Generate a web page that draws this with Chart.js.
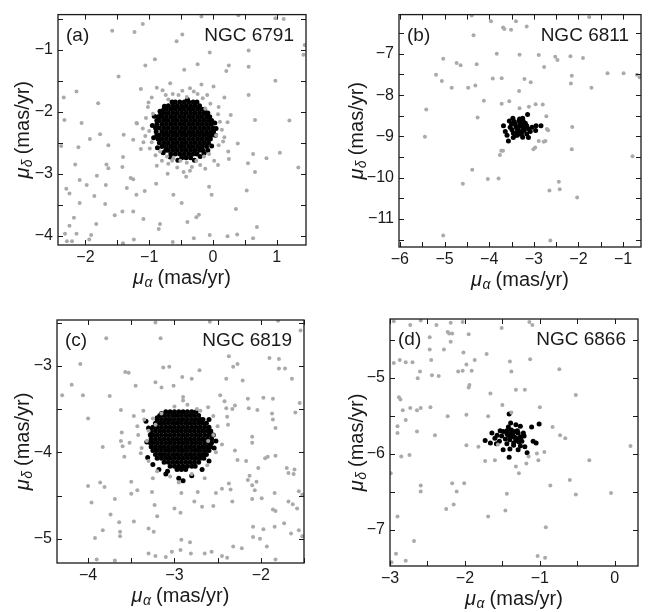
<!DOCTYPE html>
<html>
<head>
<meta charset="utf-8">
<script src="https://cdn.jsdelivr.net/npm/chart.js@4.4.1/dist/chart.umd.min.js"></script>
<style>
  body { margin: 0; background: #fff; width: 649px; height: 612px; position: relative; overflow: hidden; }
  canvas { position: absolute; display: block; }
</style>
</head>
<body>
<canvas id="pa" width="324" height="300" style="left:0px;top:0px"></canvas>
<canvas id="pb" width="324" height="300" style="left:325px;top:0px"></canvas>
<canvas id="pc" width="324" height="312" style="left:0px;top:300px"></canvas>
<canvas id="pd" width="324" height="312" style="left:325px;top:300px"></canvas>
<script>
// ---- data (proper motions, mas/yr) ----

// (a) NGC 6791
var aField = [
  [-0.18,-0.46],[0.40,-0.44],[-1.10,-0.58],[-1.58,-0.69],[-1.23,-0.71],[-0.48,-0.75],[-0.57,-0.86],[0.98,-0.49],[1.11,-0.50],[1.44,-0.92],[1.42,-1.08],
  [-0.05,-1.04],[0.56,-1.01],[-0.91,-1.15],[-1.06,-1.25],[-0.24,-1.23],[0.25,-1.25],[0.21,-1.34],[-0.45,-1.32],[0.56,-1.27],[-1.48,-1.43],[0.98,-1.50],
  [-2.14,-1.67],[-2.34,-1.77],[-1.80,-1.86],[-0.67,-1.54],[-1.13,-1.63],[0.01,-1.59],[-0.18,-1.56],[0.56,-1.73],[0.18,-1.77],
  [-2.33,-2.13],[-2.06,-2.18],[-1.19,-2.19],[0.66,-2.13],[1.20,-2.14],[-1.77,-2.36],[-1.93,-2.44],[-2.38,-2.55],[-2.11,-2.57],[-1.64,-2.54],[-1.40,-2.37],[-1.25,-2.45],
  [0.39,-2.51],[0.63,-2.68],[1.05,-2.66],[0.25,-2.76],[0.84,-2.75],[-1.41,-2.73],[-2.16,-2.85],[-1.67,-2.85],[-1.64,-2.91],[-1.42,-2.89],[-0.88,-2.87],[1.34,-2.90],[0.55,-2.83],[0.08,-2.86],[0.66,-2.97],
  [-0.71,-3.00],[-0.42,-3.05],[-1.82,-3.03],[-1.29,-3.07],[-1.25,-3.09],[-2.09,-3.10],[-1.98,-3.18],[-1.68,-3.18],[-1.35,-3.23],[-0.89,-3.16],[-1.07,-3.28],[-2.30,-3.24],[-0.06,-3.21],[-0.62,-3.34],[-0.02,-3.34],[0.53,-3.27],[-2.25,-3.32],
  [-2.09,-3.47],[-1.69,-3.49],[-1.86,-3.36],[-1.20,-3.34],[-0.49,-3.47],[-1.54,-3.67],[-1.42,-3.61],[-1.25,-3.61],[-1.09,-3.73],[-2.18,-3.71],[-1.83,-3.81],[-0.83,-3.81],[-0.40,-3.78],[-0.26,-3.70],[-0.22,-3.66],[0.36,-3.57],
  [-2.25,-3.84],[-0.85,-3.89],[0.69,-3.86],[-2.32,-3.97],[-2.14,-3.97],[-1.91,-3.99],[-0.05,-3.99],[0.23,-4.01],[0.38,-3.98],[-2.29,-4.09],[-2.21,-4.09],[-1.94,-4.06],[-1.24,-4.06],[-1.41,-4.12],[-0.63,-4.10],[-0.30,-4.04],[0.63,-4.04],
  [-0.88,-1.61],[-0.79,-1.65],[-0.74,-1.73],[-0.63,-1.71],[-0.54,-1.73],[-0.41,-1.76],[-0.30,-1.67],[-0.24,-1.71],[-0.16,-1.78],[-0.09,-1.73],[-0.36,-1.62],[-0.96,-1.77],[-1.01,-1.85],[-0.04,-1.87],[0.09,-1.92],
  [-1.20,-2.18],[-1.10,-2.27],[-1.00,-2.31],[-1.06,-2.39],[-0.96,-2.49],[-1.02,-1.92],[-0.94,-2.03],[-1.09,-2.49],[-0.99,-2.59],
  [0.11,-2.16],[0.23,-2.17],[0.14,-2.29],[0.05,-2.38],[0.18,-2.41],[0.09,-2.54],[0.24,-2.64],[0.08,-2.04],
  [-0.83,-2.64],[-0.72,-2.72],[-0.62,-2.75],[-0.51,-2.79],[-0.41,-2.82],[-0.26,-2.79],[-0.14,-2.72],[-0.06,-2.68],[-0.70,-2.84],[-0.56,-2.90],[-0.33,-2.89],[-0.20,-2.86],[-0.46,-2.97],[-0.64,-2.79],[0.02,-2.79],[-0.80,-2.79],
  [-0.48,-1.66],[-0.70,-1.80],[-0.12,-1.95],[-1.05,-2.10],[0.16,-2.48],[-0.90,-2.70],[-0.36,-2.95],[-0.12,-2.92],[-1.13,-2.60],[0.28,-2.05]
];
var aMemberRowY = [-1.84,-1.90,-1.96,-2.02,-2.08,-2.14,-2.20,-2.26,-2.32,-2.38,-2.44,-2.50,-2.56,-2.62,-2.68,-2.74];
var aMemberRowX = [
  [-0.59,-0.52,-0.45,-0.38,-0.31],
  [-0.70,-0.63,-0.56,-0.49,-0.42,-0.35,-0.28,-0.21],
  [-0.77,-0.73,-0.66,-0.59,-0.52,-0.45,-0.38,-0.31,-0.24,-0.17,-0.13],
  [-0.82,-0.77,-0.70,-0.63,-0.56,-0.49,-0.42,-0.35,-0.28,-0.21,-0.14,-0.08],
  [-0.86,-0.80,-0.73,-0.66,-0.59,-0.52,-0.45,-0.38,-0.31,-0.24,-0.17,-0.10,-0.05],
  [-0.88,-0.84,-0.77,-0.70,-0.63,-0.56,-0.49,-0.42,-0.35,-0.28,-0.21,-0.14,-0.07,-0.02],
  [-0.88,-0.80,-0.73,-0.66,-0.59,-0.52,-0.45,-0.38,-0.31,-0.24,-0.17,-0.10,-0.03],
  [-0.90,-0.84,-0.77,-0.70,-0.63,-0.56,-0.49,-0.42,-0.35,-0.28,-0.21,-0.14,-0.07,0.00],
  [-0.89,-0.80,-0.73,-0.66,-0.59,-0.52,-0.45,-0.38,-0.31,-0.24,-0.17,-0.10,-0.03,0.01],
  [-0.88,-0.84,-0.77,-0.70,-0.63,-0.56,-0.49,-0.42,-0.35,-0.28,-0.21,-0.14,-0.07,-0.02],
  [-0.86,-0.80,-0.73,-0.66,-0.59,-0.52,-0.45,-0.38,-0.31,-0.24,-0.17,-0.10,-0.04],
  [-0.84,-0.77,-0.70,-0.63,-0.56,-0.49,-0.42,-0.35,-0.28,-0.21,-0.14,-0.07],
  [-0.80,-0.73,-0.66,-0.59,-0.52,-0.45,-0.38,-0.31,-0.24,-0.17,-0.10],
  [-0.74,-0.70,-0.63,-0.56,-0.49,-0.42,-0.35,-0.28,-0.21,-0.16],
  [-0.66,-0.59,-0.52,-0.45,-0.38,-0.31,-0.25],
  [-0.49,-0.42,-0.35]
];
var aMemberExtra = [
  [-0.95,-2.22],[-0.93,-2.42],[-0.87,-2.58],[0.04,-2.38],[-0.02,-2.55],[-0.14,-2.67],[-0.67,-2.73],[-0.29,-2.78],[-0.83,-1.99],[-0.25,-1.84],
  [-0.64,-1.84],[0.03,-2.18],[-0.55,-2.78],[-0.20,-2.72],[-0.40,-1.80],[-0.76,-1.91],[-0.92,-2.07],[0.05,-2.27],[-0.78,-2.66],[-0.08,-2.62]
];

// (b) NGC 6811
var bField = [
  [-4.39,-6.07],[-3.96,-6.21],[-3.69,-6.36],[-3.66,-6.40],[-3.51,-6.42],[-3.40,-6.21],[-3.16,-6.34],[-4.35,-6.55],[-1.76,-6.11],
  [-5.03,-7.12],[-4.73,-7.22],[-4.64,-7.28],[-4.28,-7.25],[-3.83,-7.00],[-3.32,-7.02],[-2.89,-7.03],[-2.77,-7.32],[-2.52,-7.07],[-2.47,-7.15],[-2.18,-7.06],[-1.90,-7.10],
  [-2.15,-7.53],[-2.17,-7.72],[-5.19,-7.51],[-5.06,-7.66],[-4.84,-7.82],[-4.47,-7.82],[-4.31,-7.77],[-3.92,-7.60],[-3.72,-7.59],[-3.21,-7.61],[-3.07,-7.69],
  [-1.35,-7.47],[-0.99,-7.47],[-0.69,-7.51],[-0.63,-7.57],[-1.71,-7.82],[-4.12,-8.14],[-3.72,-8.21],[-3.55,-8.15],[-3.33,-7.90],[-3.32,-8.32],[-3.11,-8.28],[-2.96,-8.22],[-2.80,-8.23],
  [-2.72,-8.51],[-5.41,-8.35],[-4.26,-8.54],[-2.14,-8.77],[-2.68,-8.85],[-5.44,-9.01],[-3.73,-9.35],[-3.76,-9.45],[-2.89,-9.11],[-2.74,-9.11],[-3.01,-9.31],[-2.15,-9.31],
  [-0.79,-9.48],[-4.38,-9.81],[-4.03,-10.03],[-3.79,-10.02],[-4.59,-10.15],[-2.44,-10.10],[-2.42,-10.28],[-2.65,-10.31],[-2.03,-10.48],[-5.03,-11.40],[-2.63,-11.52],
  [-2.71,-8.82],[-2.78,-9.13],[-2.97,-9.27],[-3.69,-9.35]
];
var bMembers = [
  [-3.68,-8.74],[-3.55,-8.63],[-3.47,-8.56],[-3.32,-8.58],[-3.25,-8.56],[-3.14,-8.47],[-3.04,-8.78],[-2.95,-8.74],[-2.84,-8.74],[-2.96,-8.86],
  [-3.60,-8.97],[-3.57,-9.11],[-3.46,-9.03],[-3.25,-9.02],[-3.16,-8.94],[-3.38,-8.80],[-3.49,-8.84],[-3.31,-8.68],[-3.19,-8.68],[-3.42,-8.70],
  [-3.08,-8.88],[-3.34,-8.92],[-3.23,-8.81],[-3.46,-8.92],[-3.16,-8.74],[-3.27,-8.89],[-3.53,-8.78],[-3.64,-8.88],[-3.37,-8.97],[-3.12,-9.03],
  [-3.30,-8.75],[-3.26,-8.72],[-3.35,-8.83],[-3.22,-8.86],[-3.40,-8.76],[-3.28,-8.95],[-3.20,-8.78],[-3.44,-8.64],[-3.38,-8.90],[-3.33,-8.62],
  [-3.24,-8.63],[-3.12,-8.82],[-3.50,-8.70],[-3.42,-8.98]
];

// (c) NGC 6819
var cField = [
  [-3.22,-2.50],[-2.59,-2.49],[-1.80,-2.48],[-1.54,-2.59],[-3.79,-2.68],[-3.16,-2.68],[-4.09,-2.98],[-4.30,-3.34],[-4.19,-3.22],[-4.06,-3.34],
  [-3.57,-3.07],[-3.53,-3.08],[-3.13,-3.02],[-3.06,-3.01],[-3.45,-3.23],[-3.22,-3.19],[-3.15,-3.25],[-2.90,-3.36],[-2.90,-3.40],[-2.71,-3.05],
  [-2.91,-3.13],[-2.80,-3.15],[-3.01,-3.23],[-2.40,-3.15],[-2.32,-3.01],[-2.27,-2.98],[-2.21,-3.17],[-2.37,-2.89],[-1.90,-2.91],[-1.79,-3.03],
  [-1.72,-3.03],[-1.79,-2.92],[-1.64,-3.15],[-2.47,-3.34],[-2.42,-3.41],[-2.40,-3.49],[-2.33,-3.50],[-2.30,-3.46],[-2.39,-3.59],[-2.15,-3.38],
  [-1.97,-3.37],[-1.86,-3.38],[-2.14,-3.49],[-2.04,-3.51],[-1.87,-3.55],[-1.86,-3.62],[-1.83,-3.72],[-1.55,-3.43],[-1.60,-3.54],[-4.00,-3.61],
  [-3.75,-3.35],[-3.62,-3.51],[-3.47,-3.58],[-3.36,-3.52],[-2.74,-3.50],[-2.61,-3.48],[-3.25,-3.61],[-3.22,-3.68],[-3.43,-3.70],[-3.61,-3.77],
  [-3.62,-3.87],[-3.60,-3.93],[-3.58,-4.05],[-3.83,-3.94],[-3.52,-3.89],[-3.39,-4.01],[-3.32,-3.87],[-2.55,-3.80],[-2.61,-3.87],[-2.45,-3.91],
  [-2.38,-3.68],[-2.30,-3.98],[-2.10,-3.89],[-2.10,-3.82],[-2.27,-4.09],[-2.17,-4.10],[-1.95,-4.07],[-1.92,-4.05],[-1.83,-4.04],[-1.61,-4.20],
  [-1.62,-4.25],[-2.03,-4.18],[-2.13,-4.27],[-2.15,-4.32],[-2.10,-4.38],[-2.05,-4.34],[-2.37,-4.36],[-2.35,-4.43],[-2.45,-4.42],[-2.52,-4.47],
  [-2.07,-4.44],[-2.33,-4.57],[-2.10,-4.54],[-1.99,-4.53],[-1.84,-4.47],[-1.70,-4.18],[-1.68,-4.24],[-1.56,-4.45],[-1.52,-4.49],[-1.58,-4.65],
  [-1.73,-4.82],[-1.84,-4.86],[-1.97,-4.89],[-2.09,-4.86],[-2.09,-4.98],[-2.01,-5.00],[-1.93,-5.09],[-1.65,-4.94],[-1.56,-4.90],[-1.52,-4.97],
  [-1.83,-4.68],[-1.86,-4.66],[-3.86,-4.35],[-3.81,-4.40],[-4.00,-4.39],[-3.96,-4.58],[-3.69,-4.54],[-3.50,-4.34],[-3.50,-4.48],[-3.43,-4.44],
  [-3.26,-4.46],[-3.23,-4.61],[-2.92,-4.47],[-2.73,-4.46],[-2.68,-4.63],[-2.55,-4.62],[-2.77,-4.57],[-3.00,-4.65],[-3.20,-4.74],[-3.30,-4.88],
  [-2.93,-4.70],[-3.74,-4.72],[-3.83,-4.90],[-3.64,-4.81],[-3.63,-4.92],[-3.63,-4.97],[-3.92,-4.99],[-3.90,-5.24],[-3.69,-5.25],[-3.30,-5.17],
  [-3.22,-5.20],[-3.10,-5.21],[-3.03,-5.15],[-2.93,-5.13],[-2.92,-5.01],[-2.82,-5.04],[-2.81,-5.17],[-2.65,-5.17],[-2.57,-5.15],[-2.45,-5.20],
  [-2.39,-5.22],[-2.32,-5.09],[-2.22,-5.11],[-1.83,-5.24],[-1.68,-4.57],[-1.63,-4.60],[-3.47,-4.80],[-3.24,-4.92],
  [-3.35,-3.62],[-3.30,-3.75],[-3.38,-3.95],[-3.30,-4.10],[-3.20,-4.22],[-3.05,-4.28],[-2.80,-4.25],[-2.62,-4.15],[-2.52,-4.00],[-2.50,-3.70],
  [-2.55,-3.58],[-2.70,-3.52],[-2.85,-3.45],[-3.00,-3.47],[-3.15,-3.55],[-2.65,-4.30],[-2.95,-4.35],[-3.25,-4.30],[-3.42,-3.80]
];
var cMemberRowY = [-3.53,-3.575,-3.62,-3.665,-3.71,-3.755,-3.80,-3.845,-3.89,-3.935,-3.98,-4.025,-4.07,-4.115,-4.16,-4.20];
var cMemberRowX = [
  [-3.10,-3.05,-3.00,-2.95,-2.90,-2.85,-2.80],
  [-3.17,-3.12,-3.07,-3.02,-2.97,-2.92,-2.87,-2.82,-2.77,-2.72],
  [-3.20,-3.15,-3.10,-3.05,-3.00,-2.95,-2.90,-2.85,-2.80,-2.75,-2.70,-2.67],
  [-3.22,-3.17,-3.12,-3.07,-3.02,-2.97,-2.92,-2.87,-2.82,-2.77,-2.72,-2.67,-2.63],
  [-3.25,-3.20,-3.15,-3.10,-3.05,-3.00,-2.95,-2.90,-2.85,-2.80,-2.75,-2.70,-2.65,-2.60],
  [-3.27,-3.22,-3.17,-3.12,-3.07,-3.02,-2.97,-2.92,-2.87,-2.82,-2.77,-2.72,-2.67,-2.62,-2.58],
  [-3.28,-3.25,-3.20,-3.15,-3.10,-3.05,-3.00,-2.95,-2.90,-2.85,-2.80,-2.75,-2.70,-2.65,-2.60,-2.57],
  [-3.27,-3.22,-3.17,-3.12,-3.07,-3.02,-2.97,-2.92,-2.87,-2.82,-2.77,-2.72,-2.67,-2.62,-2.57],
  [-3.28,-3.25,-3.20,-3.15,-3.10,-3.05,-3.00,-2.95,-2.90,-2.85,-2.80,-2.75,-2.70,-2.65,-2.60,-2.57],
  [-3.27,-3.22,-3.17,-3.12,-3.07,-3.02,-2.97,-2.92,-2.87,-2.82,-2.77,-2.72,-2.67,-2.62,-2.58],
  [-3.25,-3.20,-3.15,-3.10,-3.05,-3.00,-2.95,-2.90,-2.85,-2.80,-2.75,-2.70,-2.65,-2.60],
  [-3.22,-3.17,-3.12,-3.07,-3.02,-2.97,-2.92,-2.87,-2.82,-2.77,-2.72,-2.67,-2.63],
  [-3.20,-3.15,-3.10,-3.05,-3.00,-2.95,-2.90,-2.85,-2.80,-2.75,-2.70,-2.66],
  [-3.12,-3.07,-3.02,-2.97,-2.92,-2.87,-2.82,-2.77,-2.72],
  [-3.05,-3.00,-2.95,-2.90,-2.85,-2.80,-2.76],
  [-2.97,-2.92,-2.87]
];
var cMemberExtra = [
  [-3.30,-3.72],[-3.32,-3.88],[-3.31,-4.06],[-3.25,-4.14],[-3.18,-4.20],[-3.10,-4.25],[-2.95,-4.30],[-2.90,-4.33],[-2.80,-4.27],[-2.60,-4.10],
  [-2.54,-3.95],[-2.55,-3.80],[-2.60,-3.62],[-2.75,-3.53],[-3.15,-3.55],[-3.20,-3.60],[-3.08,-4.22],[-2.68,-4.20],[-3.33,-3.64],[-2.52,-3.87]
];

// (d) NGC 6866
var dField = [
  [-2.95,-4.26],[-2.73,-4.31],[-2.59,-4.25],[-2.38,-4.31],[-2.19,-4.28],[-2.03,-4.27],[-1.51,-4.35],[-1.14,-4.27],[-1.10,-4.31],[-2.47,-4.47],
  [-2.23,-4.40],[-2.21,-4.42],[-2.17,-4.42],[-1.95,-4.43],[-2.19,-4.53],[-2.47,-4.63],[-2.28,-4.63],[-2.02,-4.67],[-1.87,-4.77],[-1.71,-4.69],
  [-1.40,-4.79],[-1.13,-4.76],[-0.74,-4.89],[-2.95,-4.81],[-2.87,-4.77],[-2.79,-4.80],[-2.70,-4.80],[-2.60,-4.92],[-2.63,-5.01],[-2.45,-4.77],
  [-2.44,-4.97],[-2.35,-4.98],[-2.09,-4.92],[-2.03,-4.91],[-1.98,-4.83],[-1.91,-4.91],[-1.95,-5.13],[-1.94,-5.10],[-1.66,-5.21],[-1.50,-5.36],
  [-1.38,-4.92],[-1.32,-5.16],[-1.20,-5.16],[-0.52,-5.23],[-2.88,-5.26],[-2.86,-5.29],[-2.83,-5.43],[-2.73,-5.40],[-2.64,-5.43],[-2.79,-5.56],
  [-2.59,-5.40],[-2.46,-5.39],[-2.23,-5.51],[-1.98,-5.49],[-1.69,-5.51],[-1.38,-5.46],[-1.00,-5.39],[-0.83,-5.65],[-0.73,-5.76],[-0.66,-5.80],
  [-2.90,-5.64],[-2.90,-5.73],[-2.64,-5.71],[-2.40,-5.76],[-1.98,-5.89],[-1.82,-5.91],[-1.73,-6.10],[-1.60,-6.09],[-1.56,-5.88],[-1.32,-6.17],
  [-1.28,-6.26],[-1.18,-6.13],[-1.15,-6.04],[-1.02,-6.09],[-1.04,-6.00],[-0.94,-5.98],[-0.86,-6.42],[-0.60,-6.35],[-0.34,-6.09],[-0.52,-6.54],
  [-0.05,-6.52],[0.21,-5.90],[-2.85,-6.04],[-2.74,-6.02],[-2.59,-6.42],[-2.59,-6.50],[-2.17,-6.39],[-2.01,-6.39],[-2.11,-6.50],[-2.15,-6.67],
  [-2.25,-6.73],[-1.44,-6.53],[-1.46,-6.75],[-1.69,-6.83],[-0.92,-6.97],[-0.93,-7.37],[-1.03,-7.35],[-2.68,-7.15],[-2.92,-7.32],[-2.79,-7.41],
  [-2.98,-7.43],[-2.90,-6.83],[-2.99,-6.26]
];
var dMembers = [
  [-1.41,-5.48],[-1.01,-5.61],[-1.39,-5.60],[-1.32,-5.62],[-1.26,-5.64],[-1.11,-5.65],[-1.53,-5.70],[-1.49,-5.71],[-1.44,-5.70],[-1.38,-5.69],
  [-1.33,-5.71],[-1.29,-5.73],[-1.22,-5.73],[-1.64,-5.73],[-1.57,-5.76],[-1.51,-5.77],[-1.42,-5.76],[-1.35,-5.78],[-1.27,-5.79],[-1.21,-5.77],
  [-1.60,-5.80],[-1.46,-5.81],[-1.40,-5.82],[-1.32,-5.83],[-1.24,-5.84],[-1.09,-5.84],[-1.73,-5.83],[-1.66,-5.86],[-1.54,-5.84],[-1.44,-5.87],
  [-1.35,-5.89],[-1.26,-5.90],[-1.20,-5.91],[-1.05,-5.86],[-1.49,-5.95],[-1.40,-5.94],[-1.29,-5.95],[-1.17,-5.99],[-1.41,-6.05],[-1.58,-5.87],
  [-1.31,-5.81],[-1.38,-5.73],[-1.42,-5.65],[-1.36,-5.75],[-1.33,-5.79],[-1.30,-5.70],[-1.40,-5.78],[-1.25,-5.78],[-1.35,-5.86],[-1.44,-5.74],[-1.28,-5.85]
];

var tags = ['(a)', '(b)', '(c)', '(d)'];
var clusterNames = ['NGC 6791', 'NGC 6811', 'NGC 6819', 'NGC 6866'];
var xLimits = [[-2.43, 1.46], [-6.02, -0.60], [-4.36, -1.50], [-3.00, 0.31]];
var yLimits = [[-4.15, -0.43], [-11.68, -6.05], [-5.28, -2.47], [-7.48, -4.23]];

// ---- styling / layout ----
var FONT = "'Liberation Sans', Arial, Helvetica, sans-serif";
var INK = '#1a1a1a';
var GREY = '#aaaaaa';
var TICK = 5;

function toPoints(list) {
  return list.map(function (p) { return { x: p[0], y: p[1] }; });
}

function rowsToPoints(rowY, rowX, extra) {
  var pts = [];
  for (var i = 0; i < rowY.length; i++) {
    for (var j = 0; j < rowX[i].length; j++) pts.push({ x: rowX[i][j], y: rowY[i] });
  }
  return pts.concat(toPoints(extra));
}

function tickText(v) {
  return (v < 0 ? '\u2212' : '') + Math.abs(v);
}

// mu with a greek subscript, then the unit
function drawAxisTitle(ctx, sub, x, y, rotate) {
  ctx.save();
  ctx.translate(x, y);
  if (rotate) ctx.rotate(-Math.PI / 2);
  var big = 'italic 20px ' + FONT, small = 'italic 14px ' + FONT, plain = '20px ' + FONT;
  ctx.font = big; var w1 = ctx.measureText('\u03bc').width;
  ctx.font = small; var w2 = ctx.measureText(sub).width;
  ctx.font = plain; var w3 = ctx.measureText(' (mas/yr)').width;
  var x0 = -(w1 + w2 + w3) / 2;
  ctx.fillStyle = INK;
  ctx.textAlign = 'left';
  ctx.textBaseline = 'alphabetic';
  ctx.font = big; ctx.fillText('\u03bc', x0, 6);
  ctx.font = small; ctx.fillText(sub, x0 + w1 + 0.5, 9);
  ctx.font = plain; ctx.fillText(' (mas/yr)', x0 + w1 + w2, 6);
  ctx.restore();
}

var panelDeco = {
  id: 'panelDeco',
  afterDraw: function (chart, args, opts) {
    var ctx = chart.ctx, a = chart.chartArea, sx = chart.scales.x, sy = chart.scales.y;
    ctx.save();
    ctx.strokeStyle = INK;
    ctx.lineWidth = 1;
    ctx.beginPath();
    // inward ticks every 0.5 on all four sides
    for (var v = Math.ceil(sx.min * 2) / 2; v <= sx.max; v += 0.5) {
      var px = Math.round(sx.getPixelForValue(v)) + 0.5;
      ctx.moveTo(px, a.bottom); ctx.lineTo(px, a.bottom - TICK);
      ctx.moveTo(px, a.top); ctx.lineTo(px, a.top + TICK);
    }
    for (v = Math.ceil(sy.min * 2) / 2; v <= sy.max; v += 0.5) {
      var py = Math.round(sy.getPixelForValue(v)) + 0.5;
      ctx.moveTo(a.left, py); ctx.lineTo(a.left + TICK, py);
      ctx.moveTo(a.right, py); ctx.lineTo(a.right - TICK, py);
    }
    ctx.stroke();
    ctx.lineWidth = 1.3;
    ctx.strokeRect(a.left, a.top, a.right - a.left, a.bottom - a.top);

    ctx.fillStyle = INK;
    ctx.textBaseline = 'middle';
    ctx.font = '19px ' + FONT;
    ctx.textAlign = 'left';
    ctx.fillText(opts.tag, a.left + 8, a.top + 21);
    ctx.textAlign = 'right';
    ctx.fillText(opts.name, a.right - 12, a.top + 21);

    drawAxisTitle(ctx, '\u03b1', (a.left + a.right) / 2, a.bottom + 33, false);
    drawAxisTitle(ctx, '\u03b4', a.left - opts.yTitleGap, (a.top + a.bottom) / 2, true);
    ctx.restore();
  }
};

function makePanel(canvasId, area, yTitleGap, idx, field, members) {
  var cv = document.getElementById(canvasId);
  var W = cv.width, H = cv.height;
  var tickFont = { family: FONT, size: 16 };
  return new Chart(cv, {
    type: 'scatter',
    data: {
      datasets: [
        { data: field, backgroundColor: GREY, pointRadius: 2.0, borderWidth: 0, clip: 0 },
        { data: members, backgroundColor: '#000', pointRadius: 2.5, borderWidth: 0, clip: 0 }
      ]
    },
    options: {
      responsive: false,
      animation: false,
      devicePixelRatio: 1,
      events: [],
      layout: { padding: { left: 0, top: area.top, right: W - area.right, bottom: 0 } },
      plugins: {
        legend: { display: false },
        tooltip: { enabled: false },
        panelDeco: { tag: tags[idx], name: clusterNames[idx], yTitleGap: yTitleGap }
      },
      scales: {
        x: {
          type: 'linear', min: xLimits[idx][0], max: xLimits[idx][1],
          grid: { display: false, drawTicks: false, tickLength: 0 },
          border: { display: false },
          ticks: { stepSize: 1, includeBounds: false, autoSkip: false, maxRotation: 0, padding: 3,
                   font: tickFont, color: INK, callback: tickText },
          afterFit: function (s) { s.height = H - area.bottom; }
        },
        y: {
          type: 'linear', min: yLimits[idx][0], max: yLimits[idx][1],
          grid: { display: false, drawTicks: false, tickLength: 0 },
          border: { display: false },
          ticks: { stepSize: 1, includeBounds: false, autoSkip: false, padding: 5,
                   font: tickFont, color: INK, callback: tickText },
          afterFit: function (s) { s.width = area.left; }
        }
      }
    },
    plugins: [panelDeco]
  });
}

makePanel('pa', { left: 58, top: 3, right: 306, bottom: 245 }, 35, 0,
  toPoints(aField), rowsToPoints(aMemberRowY, aMemberRowX, aMemberExtra));
makePanel('pb', { left: 74, top: 6, right: 316, bottom: 247 }, 42, 1,
  toPoints(bField), toPoints(bMembers));
makePanel('pc', { left: 57, top: 20, right: 304, bottom: 263 }, 34, 2,
  toPoints(cField), rowsToPoints(cMemberRowY, cMemberRowX, cMemberExtra));
makePanel('pd', { left: 65, top: 19, right: 313, bottom: 266 }, 33, 3,
  toPoints(dField), toPoints(dMembers));
</script>
</body>
</html>
